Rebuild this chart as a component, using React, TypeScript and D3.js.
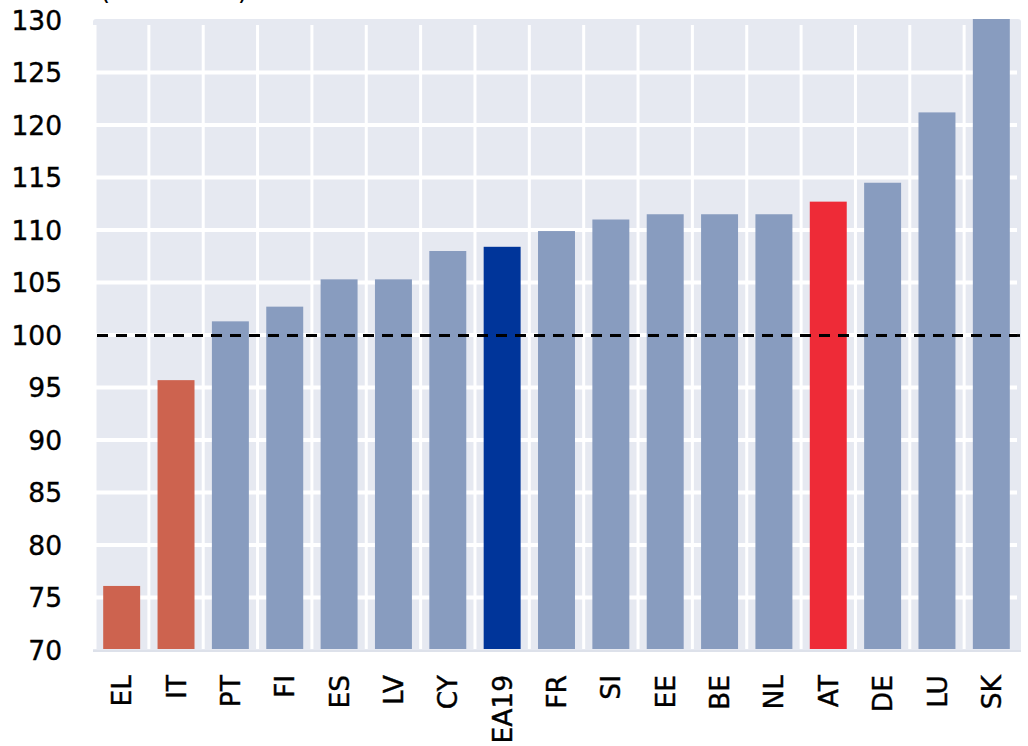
import React from "react";
import * as d3 from "d3";

const categories = ["EL", "IT", "PT", "FI", "ES", "LV", "CY", "EA19", "FR", "SI", "EE", "BE", "NL", "AT", "DE", "LU", "SK"];
const values = [76.1, 95.7, 101.3, 102.7, 105.3, 105.3, 108.0, 108.4, 109.9, 111.0, 111.5, 111.5, 111.5, 112.7, 114.5, 121.2, 130.5];
const barColors = ["#cd634f", "#cd634f", "#889cbf", "#889cbf", "#889cbf", "#889cbf", "#889cbf", "#00359a", "#889cbf", "#889cbf", "#889cbf", "#889cbf", "#889cbf", "#ee2b37", "#889cbf", "#889cbf", "#889cbf"];
const yTicks = [70, 75, 80, 85, 90, 95, 100, 105, 110, 115, 120, 125, 130];
const referenceValue = 100;
const titleText = "(EA19 = 100)";

const W = 1028;
const H = 746;
const FONT = "'DejaVu Sans', sans-serif";

export default function App() {
  const x = d3.scaleBand<string>().domain(categories).range([94.5, 1018.5]).paddingInner(0.32).paddingOuter(0.16);
  const y = d3.scaleLinear().domain([70, 130]).range([650, 20]);
  const step = x.step();
  const x0 = 94.5;
  const yTop = 19;
  const yBottom = y(70);

  return (
    <svg width={W} height={H} style={{ position: "absolute", left: 0, top: 0, background: "#fff" }}>
      <text x={100} y={-1.5} fontFamily={FONT} fontSize={26} textLength={148} lengthAdjust="spacing" fill="#000">{titleText}</text>
      {/* panel */}
      <rect x={93} y={yTop} width={928} height={yBottom - yTop + 2} rx={3} fill="#e6e9f1" />
      <line x1={93} x2={1021} y1={yBottom + 1} y2={yBottom + 1} stroke="#dde1ea" strokeWidth={2} />
      {/* vertical gridlines */}
      {d3.range(categories.length).map((i) => (
        <line key={"v" + i} x1={x0 + i * step} x2={x0 + i * step} y1={25} y2={yBottom - 1} stroke="#fff" strokeWidth={i === 0 ? 4 : 3} />
      ))}
      {/* horizontal gridlines */}
      {yTicks.filter((t) => t > 70 && t < 130).map((t) => (
        <line key={"h" + t} x1={95} x2={1017} y1={y(t)} y2={y(t)} stroke="#fff" strokeWidth={4} />
      ))}
      {/* bars */}
      {categories.map((c, i) => {
        const v = Math.min(values[i], 130.1);
        return (
          <rect key={c} x={x(c)} y={Math.max(y(v), yTop)} width={x.bandwidth()} height={yBottom - 1 - Math.max(y(v), yTop)} fill={barColors[i]} />
        );
      })}
      {/* reference line */}
      <line x1={97} x2={W} y1={y(referenceValue) + 0.5} y2={y(referenceValue) + 0.5} stroke="#000" strokeWidth={2.8} strokeDasharray="11 8" />
      {/* y tick labels */}
      {yTicks.map((t) => (
        <text key={"t" + t} x={62} y={y(t)} dy="0.36em" textAnchor="end" fontFamily={FONT} fontSize={26.5} fill="#000" stroke="#000" strokeWidth={0.4}>{t}</text>
      ))}
      {/* x labels */}
      {categories.map((c) => (
        <text key={"l" + c} transform={`translate(${(x(c) as number) + x.bandwidth() / 2},675) rotate(-90)`} dy="0.36em" textAnchor="end" fontFamily={FONT} fontSize={26.5} fill="#000" stroke="#000" strokeWidth={0.4}>{c}</text>
      ))}
    </svg>
  );
}
